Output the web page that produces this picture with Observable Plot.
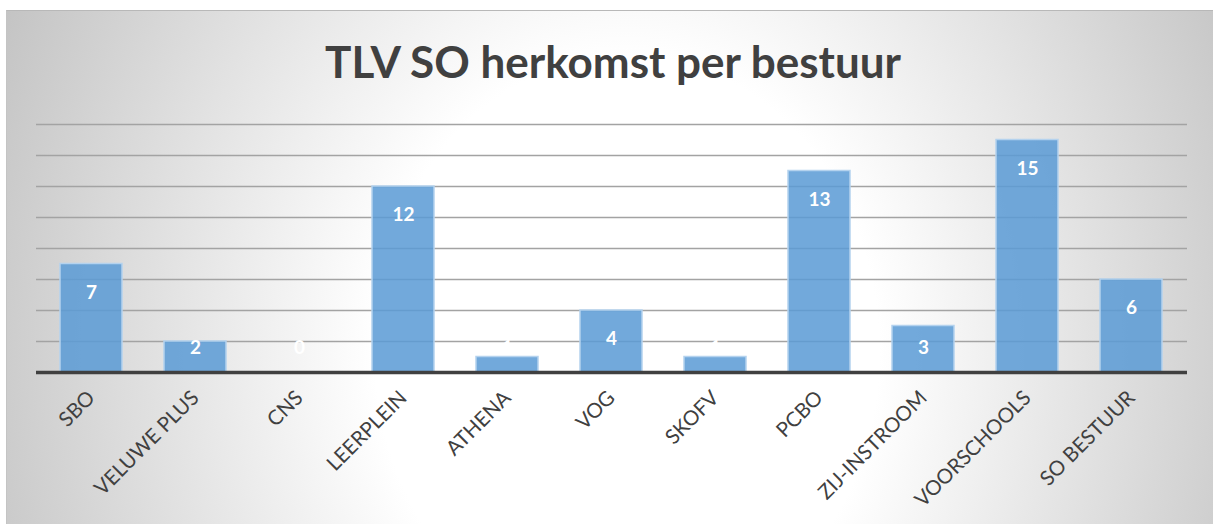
<!DOCTYPE html>
<html>
<head>
<meta charset="utf-8">
<script src="https://cdn.jsdelivr.net/npm/d3@7"></script>
<script src="https://cdn.jsdelivr.net/npm/@observablehq/plot@0.6"></script>
<style>
  html, body { margin: 0; padding: 0; background: #ffffff; }
  #wrap { position: relative; width: 1213px; height: 524px; overflow: hidden; background: #fff; }
  #panel {
    position: absolute; left: 6px; top: 10px; width: 1207px; height: 514px;
    border-top: 1px solid #b8b8b8; border-left: 1px solid #c4c4c4; box-sizing: border-box;
    background: radial-gradient(ellipse 700px 820px at 620px 340px, #ffffff 0%, #ffffff 36%, #c2c2c2 100%);
  }
  #title {
    position: absolute; left: 0; top: 36px; width: 1226px; text-align: center;
    font-family: Lato, "Open Sans", sans-serif; font-weight: 700; font-size: 44px;
    color: #404040; line-height: 50px; margin: 0;
  }
  #chart { position: absolute; left: 0; top: 100px; }
</style>
</head>
<body>
<div id="wrap">
  <div id="panel"></div>
  <h1 id="title">TLV SO herkomst per bestuur</h1>
  <div id="chart"></div>
</div>
<script>
const categories = ["SBO", "VELUWE PLUS", "CNS", "LEERPLEIN", "ATHENA", "VOG", "SKOFV", "PCBO", "ZIJ-INSTROOM", "VOORSCHOOLS", "SO BESTUUR"];
const values = [7, 2, 0, 12, 1, 4, 1, 13, 3, 15, 6];
const gridTicks = [2, 4, 6, 8, 10, 12, 14, 16];

const data = categories.map((c, i) => ({category: c, value: values[i]}));

const chart = Plot.plot({
  width: 1213,
  height: 424,
  marginLeft: 36,
  marginRight: 26,
  marginTop: 24,
  marginBottom: 152,
  style: {background: "transparent", fontFamily: "Lato, 'Open Sans', sans-serif", fontSize: "16px"},
  x: {domain: categories, paddingInner: 0.4, paddingOuter: 0.2, label: null},
  y: {domain: [0, 16], axis: null},
  marks: [
    Plot.ruleY(gridTicks, {stroke: "#a3a3a3", strokeWidth: 1.3}),
    Plot.barY(data, {x: "category", y: "value", fill: "#5b9bd5", fillOpacity: 0.86, stroke: "#b4d2ee", strokeWidth: 1.5}),
    Plot.ruleY([0], {stroke: "#404040", strokeWidth: 3.5}),
    Plot.text(data, {
      x: "category",
      y: d => Math.max(d.value, 3.4),
      dy: 28.5,
      text: d => String(d.value),
      fill: "white",
      fontWeight: "bold",
      fontSize: 19,
      lineAnchor: "middle"
    }),
    Plot.axisX({
      tickRotate: -45,
      tickSize: 0,
      tickPadding: 22,
      fontSize: 20.5,
      fill: "#404040",
      label: null
    })
  ]
});
document.getElementById("chart").appendChild(chart);
</script>
</body>
</html>
